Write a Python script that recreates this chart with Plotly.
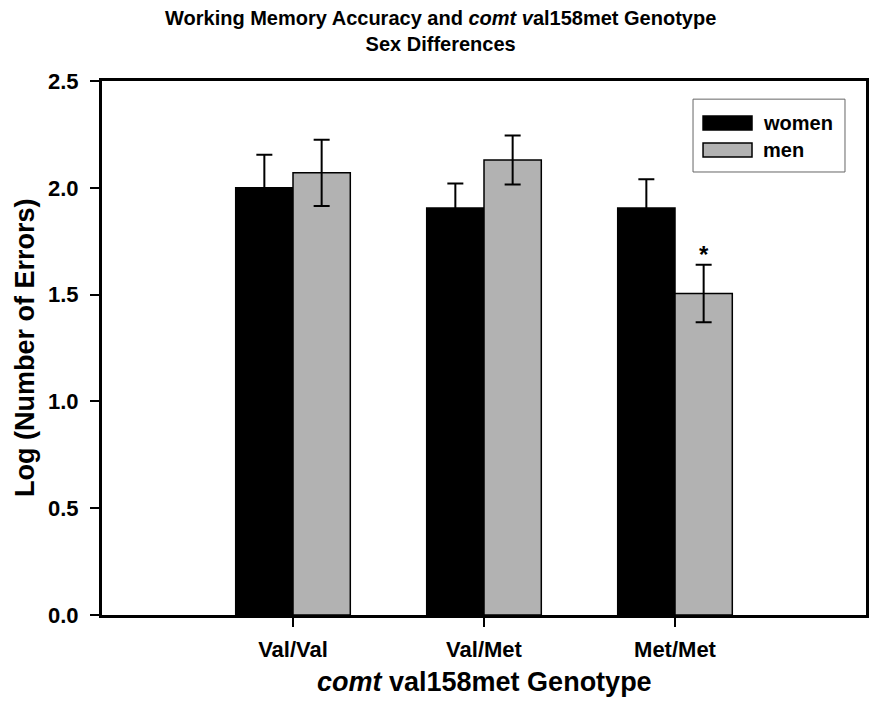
import plotly.graph_objects as go

genotypes = ["Val/Val", "Val/Met", "Met/Met"]
women = [2.00, 1.905, 1.905]
women_err = [0.155, 0.115, 0.135]
men = [2.07, 2.13, 1.505]
men_err = [0.155, 0.115, 0.135]
y_ticks = [0.0, 0.5, 1.0, 1.5, 2.0, 2.5]
series_names = ["women", "men"]
colors = ["#000000", "#b2b2b2"]

FONT = "Liberation Sans, Arial, sans-serif"

x_idx = list(range(len(genotypes)))

fig = go.Figure()
for name, vals, errs, col in zip(series_names, [women, men], [women_err, men_err], colors):
    fig.add_trace(go.Bar(
        x=x_idx, y=vals, name=name,
        marker=dict(color=col, line=dict(color="black", width=1.5)),
        error_y=dict(type="data", array=errs, visible=True, color="black",
                     thickness=2, width=8),
        showlegend=False,
    ))

# page body has an 8px default margin, so the figure is sized to fit 878x714
fig.update_layout(
    width=870, height=706,
    paper_bgcolor="white", plot_bgcolor="white",
    margin=dict(l=94, r=12, t=73, b=99),
    barmode="group", bargap=0.4, bargroupgap=0,
    font=dict(family=FONT, color="black"),
)

fig.update_xaxes(
    range=[-1, 3], tickmode="array", tickvals=x_idx,
    ticktext=["<b>%s</b>" % g for g in genotypes],
    tickfont=dict(family=FONT, size=22, color="black"),
    ticks="outside", ticklen=9, tickwidth=1.5, tickcolor="black",
    ticklabelstandoff=4,
    showline=True, linecolor="black", linewidth=3, mirror=True,
    showgrid=False, zeroline=False, automargin=False,
)
fig.update_yaxes(
    range=[0, 2.5], tickmode="array", tickvals=y_ticks,
    ticktext=["<b>%.1f</b>" % v for v in y_ticks],
    tickfont=dict(family=FONT, size=22, color="black"),
    ticks="outside", ticklen=9, tickwidth=2, tickcolor="black",
    ticklabelstandoff=7,
    showline=True, linecolor="black", linewidth=3, mirror=True,
    showgrid=False, zeroline=False, automargin=False,
)

# titles
fig.add_annotation(
    text="<b>Working Memory Accuracy and <i>comt v</i>al158met Genotype<br>Sex Differences</b>",
    x=0.4437, y=1.0927, xref="paper", yref="paper", showarrow=False,
    xanchor="center", yanchor="middle", align="center",
    font=dict(family=FONT, size=20, color="black"),
)
fig.add_annotation(
    text="<b><i>comt</i> val158met Genotype</b>",
    x=0.5, y=-0.1255, xref="paper", yref="paper", showarrow=False,
    xanchor="center", yanchor="middle",
    font=dict(family=FONT, size=27, color="black"),
)
fig.add_annotation(
    text="<b>Log (Number of Errors)</b>",
    x=-0.1008, y=0.502, xref="paper", yref="paper", showarrow=False,
    xanchor="center", yanchor="middle", textangle=-90,
    font=dict(family=FONT, size=27, color="black"),
)

# significance marker
fig.add_annotation(x=2, y=men[2] + men_err[2], xref="x", yref="y",
                   text="<b>*</b>", showarrow=False, xshift=29, yshift=10,
                   font=dict(family=FONT, size=24, color="black"))

# custom legend box
fig.add_shape(type="rect", xref="paper", yref="paper",
              x0=0.7736, x1=0.9725, y0=0.8296, y1=0.966,
              line=dict(color="#666666", width=1), fillcolor="white")
for i, (name, col) in enumerate(zip(series_names, colors)):
    yc = 0.9213 - i * 0.0505
    fig.add_shape(type="rect", xref="paper", yref="paper",
                  x0=0.7867, x1=0.8508, y0=yc - 0.0131, y1=yc + 0.0131,
                  line=dict(color="black", width=1.5), fillcolor=col)
    fig.add_annotation(x=0.863, y=yc, xref="paper", yref="paper",
                       text="<b>%s</b>" % name, showarrow=False,
                       xanchor="left", yanchor="middle",
                       font=dict(family=FONT, size=20, color="black"))

fig.write_html("out.html")
